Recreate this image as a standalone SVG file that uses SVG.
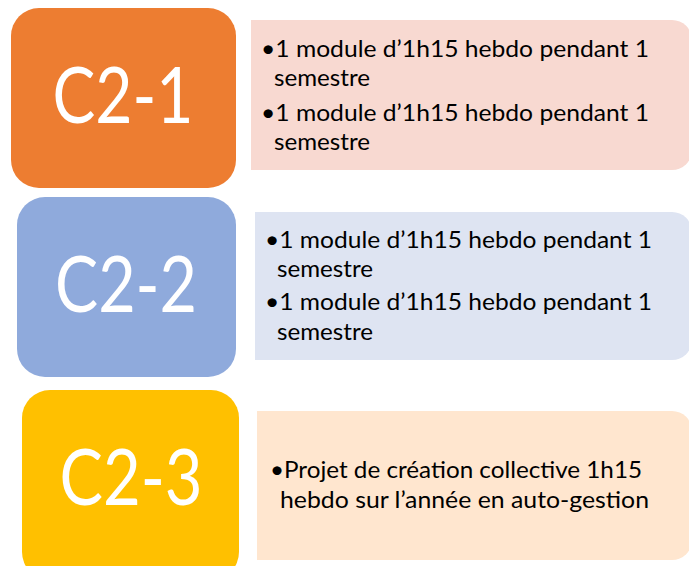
<svg xmlns="http://www.w3.org/2000/svg" width="689" height="566" viewBox="0 0 689 566">
<style>
.big{font-family:Lato,"Open Sans","Liberation Sans",sans-serif;font-size:78px;font-weight:400;fill:#fff;text-anchor:middle}
.t{font-family:Lato,"Liberation Sans",sans-serif;font-size:22.5px;fill:#000}
</style>
<rect width="689" height="566" fill="#fff"/>
<g id="c21">
<rect x="11" y="8" width="225" height="180" rx="28" fill="#ED7D31"/>
<text class="big" x="123" y="123" textLength="141" lengthAdjust="spacingAndGlyphs">C2-1</text>
</g>
<g id="c21-text">
<path d="M251,20 H672 A20,20 0 0 1 692,40 V150 A20,20 0 0 1 672,170 H251 Z" fill="#F8D9D1"/>
<text class="t" x="261" y="57" textLength="388" lengthAdjust="spacingAndGlyphs">•1 module d’1h15 hebdo pendant 1</text>
<text class="t" x="274" y="86" textLength="96" lengthAdjust="spacingAndGlyphs">semestre</text>
<text class="t" x="261" y="121" textLength="388" lengthAdjust="spacingAndGlyphs">•1 module d’1h15 hebdo pendant 1</text>
<text class="t" x="274" y="150" textLength="96" lengthAdjust="spacingAndGlyphs">semestre</text>
</g>
<g id="c22">
<rect x="17" y="197" width="219" height="180" rx="28" fill="#8FAADC"/>
<text class="big" x="126" y="312" textLength="142" lengthAdjust="spacingAndGlyphs">C2-2</text>
</g>
<g id="c22-text">
<path d="M255,212 H672 A20,20 0 0 1 692,232 V340 A20,20 0 0 1 672,360 H255 Z" fill="#DEE4F2"/>
<text class="t" x="265" y="248" textLength="387" lengthAdjust="spacingAndGlyphs">•1 module d’1h15 hebdo pendant 1</text>
<text class="t" x="277" y="277" textLength="96" lengthAdjust="spacingAndGlyphs">semestre</text>
<text class="t" x="265" y="310" textLength="387" lengthAdjust="spacingAndGlyphs">•1 module d’1h15 hebdo pendant 1</text>
<text class="t" x="277" y="340" textLength="96" lengthAdjust="spacingAndGlyphs">semestre</text>
</g>
<g id="c23">
<rect x="22" y="390" width="217" height="190" rx="28" fill="#FFC000"/>
<text class="big" x="131" y="505" textLength="143" lengthAdjust="spacingAndGlyphs">C2-3</text>
</g>
<g id="c23-text">
<path d="M257,411 H672 A20,20 0 0 1 692,431 V540 A20,20 0 0 1 672,560 H257 Z" fill="#FFE6CF"/>
<text class="t" x="270" y="478" textLength="372" lengthAdjust="spacingAndGlyphs">•Projet de création collective 1h15</text>
<text class="t" x="280" y="508" textLength="369" lengthAdjust="spacingAndGlyphs">hebdo sur l’année en auto-gestion</text>
</g>
<g id="connectors"></g>
</svg>
